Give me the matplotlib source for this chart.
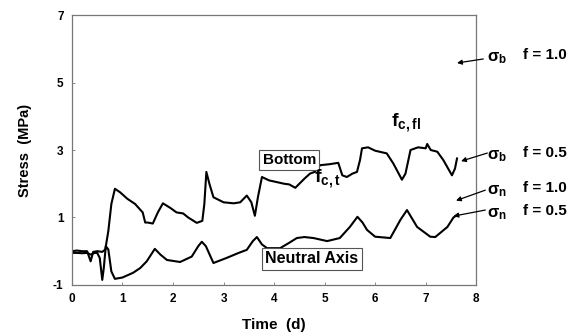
import matplotlib
matplotlib.use("Agg")
import matplotlib.pyplot as plt

# ----------------------------- data ----------------------------------------
bottom_t = [0, 0.1, 0.2, 0.3, 0.37, 0.42, 0.5, 0.6, 0.66, 0.72, 0.78, 0.85, 0.95,
            1.1, 1.25, 1.4, 1.45, 1.5, 1.6, 1.7, 1.8, 1.95, 2.07, 2.2, 2.3, 2.47,
            2.58, 2.62, 2.66, 2.72, 2.8, 3.0, 3.2, 3.33, 3.46, 3.55, 3.62, 3.68,
            3.76, 3.9, 4.05, 4.2, 4.3, 4.42, 4.5, 4.6, 4.71, 4.8, 4.91, 5.1, 5.27,
            5.35, 5.44, 5.55, 5.64, 5.7, 5.74, 5.86, 6.0, 6.23, 6.36, 6.53, 6.6,
            6.7, 6.85, 7.0, 7.03, 7.1, 7.23, 7.35, 7.52, 7.58, 7.62]
bottom_s = [0.0, 0.02, 0.0, 0.0, -0.3, -0.02, 0.0, -0.02, 0.05, 0.6, 1.4, 1.85, 1.75,
            1.55, 1.4, 1.15, 0.85, 0.85, 0.82, 1.15, 1.42, 1.28, 1.15, 1.12, 1.0, 0.84,
            0.9, 1.4, 2.35, 2.0, 1.6, 1.45, 1.42, 1.45, 1.65, 1.45, 1.05, 1.6,
            2.2, 2.1, 2.05, 2.0, 1.98, 1.88, 2.0, 2.15, 2.3, 2.35, 2.55, 2.58, 2.62,
            2.25, 2.2, 2.3, 2.35, 2.7, 3.05, 3.08, 2.98, 2.9, 2.6, 2.12, 2.3,
            3.0, 3.08, 3.05, 3.18, 3.0, 2.95, 2.7, 2.25, 2.45, 2.75]

neutral_t = [0, 0.1, 0.2, 0.3, 0.37, 0.45, 0.5, 0.55, 0.6, 0.63, 0.67, 0.72, 0.78,
             0.85, 1.0, 1.21, 1.35, 1.48, 1.64, 1.75, 1.88, 2.14, 2.37, 2.5, 2.57,
             2.65, 2.8, 3.06, 3.3, 3.46, 3.58, 3.66, 3.76, 3.86, 4.12, 4.3, 4.45,
             4.6, 4.78, 5.05, 5.3, 5.5, 5.65, 5.75, 5.84, 6.0, 6.3, 6.5, 6.63, 6.83,
             7.09, 7.19, 7.43, 7.55, 7.62]
neutral_s = [-0.05, -0.05, -0.06, -0.05, -0.1, -0.05, -0.05, -0.2, -0.85, -0.5, 0.15,
             0.05, -0.6, -0.82, -0.78, -0.64, -0.5, -0.3, 0.07, -0.1, -0.26, -0.32,
             -0.16, 0.15, 0.28, 0.15, -0.35, -0.2, -0.05, 0.04, 0.3, 0.42, 0.2, 0.09,
             0.09, 0.25, 0.39, 0.42, 0.39, 0.3, 0.39, 0.72, 1.02, 0.85, 0.63, 0.43,
             0.39, 0.93, 1.22, 0.72, 0.43, 0.42, 0.72, 1.0, 1.07]

x_ticks = [0, 1, 2, 3, 4, 5, 6, 7, 8]
y_ticks = [-1, 1, 3, 5, 7]

# right-hand labels: sigma label, f label, arrow head / tail (t, s), text height
side_sigma = [r"$\sigma_b$", r"$\sigma_b$", r"$\sigma_n$", r"$\sigma_n$"]
side_f = ["f = 1.0", "f = 0.5", "f = 1.0", "f = 0.5"]
side_head = [(7.62, 5.58), (7.7, 2.67), (7.6, 1.5), (7.55, 1.04)]
side_tail = [(8.14, 5.70), (8.22, 2.91), (8.18, 1.81), (8.18, 1.22)]
side_y = [5.81, 2.91, 1.87, 1.19]

# ----------------------------- plot ----------------------------------------
plt.rcParams["font.family"] = ["Liberation Sans", "DejaVu Sans"]
plt.rcParams["mathtext.fontset"] = "custom"
plt.rcParams["mathtext.rm"] = "Liberation Sans:bold"
plt.rcParams["mathtext.it"] = "Liberation Sans:bold"
plt.rcParams["mathtext.bf"] = "Liberation Sans:bold"

fig = plt.figure(figsize=(5.71, 3.36), dpi=100)
ax = fig.add_axes([0.126, 0.152, 0.708, 0.803])

ax.plot(bottom_t, bottom_s, color="black", lw=1.5)
ax.plot(neutral_t, neutral_s, color="black", lw=1.5)

ax.set_xlim(0, 8)
ax.set_ylim(-1, 7)
ax.set_xticks(x_ticks)
ax.set_yticks(y_ticks)
ax.set_xticklabels([str(v) for v in x_ticks], fontweight="bold", fontsize=8.5)
ax.set_yticklabels([str(v) for v in y_ticks], fontweight="bold", fontsize=8.5)
ax.tick_params(direction="in", length=2, width=0.6, color="#777777", pad=6)
for sp in ax.spines.values():
    sp.set_color("#777777")
    sp.set_linewidth(0.9)

ax.set_xlabel("Time  (d)", fontweight="bold", fontsize=11, labelpad=9)
ax.set_ylabel("Stress  (MPa)", fontweight="bold", fontsize=10.5, labelpad=15)

box = dict(boxstyle="square,pad=0.2", fc="white", ec="#555555", lw=0.8)
ax.text(4.3, 2.7, "Bottom", fontsize=11, fontweight="bold", ha="center", va="center", bbox=box)
ax.text(4.75, -0.23, "Neutral Axis", fontsize=11.5, fontweight="bold", ha="center", va="center", bbox=box)
ax.text(5.05, 2.15, r"$\mathregular{f_{c,t}}$", fontsize=14, fontweight="bold",
        ha="center", va="center")
ax.text(6.6, 3.8, r"$\mathregular{f_{c,fl}}$", fontsize=14, fontweight="bold",
        ha="center", va="center")

for sig, flab, head, tail, yy in zip(side_sigma, side_f, side_head, side_tail, side_y):
    ax.annotate("", xy=head, xytext=tail, annotation_clip=False,
                arrowprops=dict(arrowstyle="-|>", color="black", lw=0.9,
                                mutation_scale=7, shrinkA=0, shrinkB=0))
    ax.text(8.22, yy - 0.08, sig, fontsize=12, ha="left", va="center", clip_on=False)
    ax.text(8.93, yy, flab, fontsize=11, fontweight="bold", ha="left", va="center", clip_on=False)

fig.savefig("out.png", dpi=100)
